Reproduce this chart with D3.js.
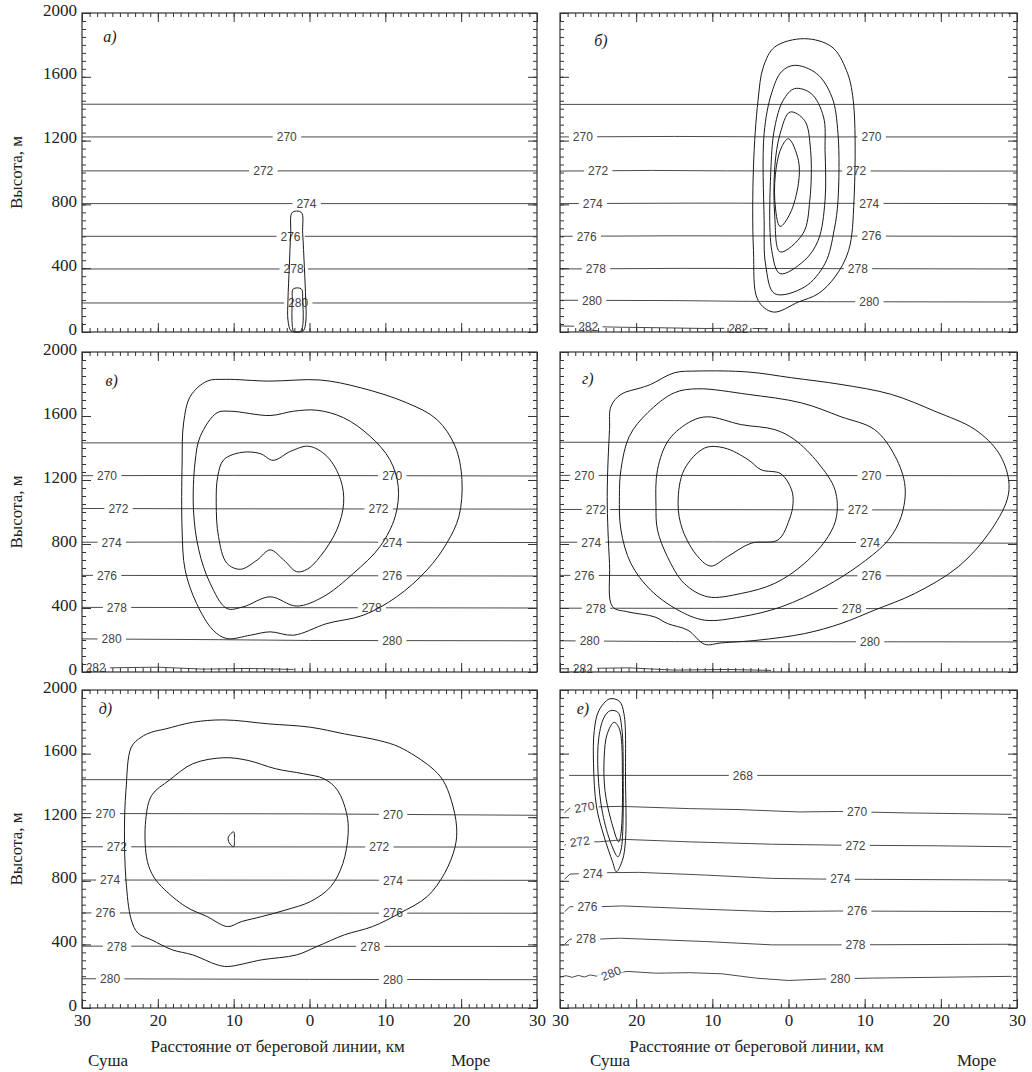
<!DOCTYPE html>
<html>
<head>
<meta charset="utf-8">
<script src="https://cdn.jsdelivr.net/npm/d3@7"></script>
<style>
body { margin: 0; background: #fff; }
</style>
</head>
<body>
<svg width="1032" height="1072"></svg>
<script>
var svg = d3.select("svg");

var panelNames = ["а)", "б)", "в)", "г)", "д)", "е)"];
var yTicks = [0, 400, 800, 1200, 1600, 2000];
var xTicks = [-30, -20, -10, 0, 10, 20, 30];
var yTitle = "Высота, м";
var xTitle = "Расстояние от береговой линии, км";
var landText = "Суша";
var seaText = "Море";

// isotherms: t = label, lab = label positions (km), pts = [km, m]
var isoA = [
    { t: null, lab: [], pts: [[-30, 1428], [30, 1428]] },
    { t: "270", lab: [-3.0], pts: [[-30, 1223], [30, 1223]] },
    { t: "272", lab: [-6.1], pts: [[-30, 1010], [30, 1010]] },
    { t: "274", lab: [-0.4], pts: [[-30, 805], [30, 805]] },
    { t: "276", lab: [-2.5], pts: [[-30, 600], [30, 600]] },
    { t: "278", lab: [-2.1], pts: [[-30, 395], [30, 395]] },
    { t: "280", lab: [-1.5], pts: [[-30, 182], [30, 182]] }
];
var isoB = [
    { t: null, lab: [], pts: [[-30, 1427], [30, 1427]] },
    { t: "270", lab: [-27.0, 10.9], pts: [[-30, 1223], [-15, 1226], [0, 1223], [30, 1223]] },
    { t: "272", lab: [-25.0, 8.9], pts: [[-30, 1009], [-18, 1013], [-8, 1010], [30, 1009]] },
    { t: "274", lab: [-25.7, 10.6], pts: [[-30, 805], [-12, 808], [30, 805]] },
    { t: "276", lab: [-26.5, 10.9], pts: [[-30, 600], [-15, 603], [30, 600]] },
    { t: "278", lab: [-25.3, 9.1], pts: [[-30, 395], [-14, 399], [30, 395]] },
    { t: "280", lab: [-25.8, 10.6], pts: [[-30, 199], [-15, 197], [-5, 192], [5, 190], [30, 188]] },
    { t: "282", lab: [-26.3, -6.6], pts: [[-30, 38], [-22, 30], [-16, 26], [-11, 22], [-6, 24], [-2.7, 20]] }
];
var isoC = [
    { t: null, lab: [], pts: [[-30, 1432], [30, 1432]] },
    { t: "270", lab: [-26.7, 10.9], pts: [[-30, 1227], [-10, 1229], [30, 1225]] },
    { t: "272", lab: [-25.2, 9.1], pts: [[-30, 1022], [-12, 1020], [30, 1018]] },
    { t: "274", lab: [-26.1, 10.9], pts: [[-30, 811], [-5, 813], [30, 809]] },
    { t: "276", lab: [-26.7, 10.9], pts: [[-30, 604], [30, 600]] },
    { t: "278", lab: [-25.4, 8.2], pts: [[-30, 404], [30, 400]] },
    { t: "280", lab: [-26.1, 10.9], pts: [[-30, 207], [-12, 202], [0, 197], [30, 195]] },
    { t: "282", lab: [-28.2], pts: [[-30, 24], [-20, 30], [-14, 18], [-8, 22], [-2.1, 16]] }
];
var isoD = [
    { t: null, lab: [], pts: [[-30, 1436], [30, 1436]] },
    { t: "270", lab: [-26.8, 10.9], pts: [[-30, 1229], [30, 1227]] },
    { t: "272", lab: [-25.3, 9.1], pts: [[-30, 1016], [30, 1012]] },
    { t: "274", lab: [-25.9, 10.7], pts: [[-30, 811], [-10, 813], [30, 805]] },
    { t: "276", lab: [-26.8, 10.9], pts: [[-30, 604], [30, 600]] },
    { t: "278", lab: [-25.3, 8.3], pts: [[-30, 399], [0, 397], [30, 395]] },
    { t: "280", lab: [-26.1, 10.7], pts: [[-30, 195], [-15, 190], [30, 188]] },
    { t: "282", lab: [-27.0], pts: [[-30, 20], [-21, 26], [-15, 12], [-8, 16], [-2.3, 10]] }
];
var isoE = [
    { t: null, lab: [], pts: [[-30, 1436], [30, 1436]] },
    { t: "270", lab: [-26.9, 11.0], pts: [[-30, 1223], [0, 1221], [30, 1212]] },
    { t: "272", lab: [-25.4, 9.2], pts: [[-30, 1014], [30, 1012]] },
    { t: "274", lab: [-26.3, 11.0], pts: [[-30, 805], [30, 803]] },
    { t: "276", lab: [-26.9, 11.0], pts: [[-30, 598], [30, 596]] },
    { t: "278", lab: [-25.4, 8.0], pts: [[-30, 389], [30, 387]] },
    { t: "280", lab: [-26.3, 11.0], pts: [[-30, 184], [0, 180], [30, 178]] }
];
var isoF = [
    { t: "268", lab: [-6.0], pts: [[-28.8, 1463], [29.3, 1463]] },
    { t: "270", lab: [-26.8, 9.0], rot: [-10, 0],
      pts: [[-29.4, 1228], [-28.6, 1262], [-22, 1268], [-13, 1254], [-6.5, 1248], [1.4, 1233], [6.6, 1236], [15.4, 1227], [29.3, 1218]] },
    { t: "272", lab: [-27.4, 8.8], rot: [-8, 0],
      pts: [[-29.4, 1020], [-28.8, 1050], [-25, 1045], [-21.3, 1060], [-13, 1045], [-2.1, 1030], [6.6, 1024], [19.7, 1020], [29.3, 1014]] },
    { t: "274", lab: [-25.7, 6.8],
      pts: [[-29.4, 810], [-28.7, 842], [-24, 851], [-19.6, 853], [-10.9, 836], [-2.1, 815], [4.4, 811], [11, 809], [29.3, 805]] },
    { t: "276", lab: [-26.4, 9.0],
      pts: [[-29.4, 606], [-28.7, 637], [-24.8, 637], [-21.8, 642], [-10.9, 621], [-2.1, 606], [6.6, 610], [29.3, 606]] },
    { t: "278", lab: [-26.6, 8.8],
      pts: [[-29.4, 400], [-28.7, 433], [-25, 433], [-22.2, 439], [-10.9, 418], [-2.1, 397], [6.6, 397], [29.3, 401]] },
    { t: "280", lab: [-23.3, 6.8], rot: [-22, 0],
      pts: [[-30, 195], [-29.2, 203], [-28.4, 193], [-27.6, 205], [-26.8, 195], [-26, 208], [-25.2, 200], [-24.4, 212],
            [-21.1, 230], [-17.4, 219], [-13, 222], [-8.7, 215], [-4.3, 188], [0, 173], [4.4, 182], [11, 188], [29.3, 199]] }
];

// cloud contours, [km, m]
var cloudA = [
    [[-2.27, 750], [-1.08, 750], [-0.9, 619], [-0.68, 410], [-0.5, 200], [-0.47, 75], [-0.8, 8], [-1.6, 0],
     [-2.45, 8], [-2.84, 75], [-2.84, 200], [-2.66, 410], [-2.48, 619]],
    [[-2.14, 270], [-1.08, 270], [-0.9, 200], [-0.9, 40], [-1.2, 4], [-1.7, 0], [-2.1, 4], [-2.27, 40], [-2.27, 200]]
];
var cloudB = [
    [[2.1, 1839], [5.7, 1787], [7.6, 1641], [8.5, 1452], [8.6, 826], [7.9, 512], [6.1, 345], [3.9, 240], [1.3, 188],
     [-2.0, 125], [-4.0, 199], [-4.6, 512], [-4.6, 1035], [-4.0, 1452], [-3.3, 1662], [-1.8, 1787]],
    [[0.8, 1672], [3.7, 1620], [5.7, 1473], [6.5, 1243], [6.5, 826], [6.0, 640], [4.8, 430], [2.1, 282], [-1.8, 240],
     [-3.0, 420], [-3.2, 700], [-3.2, 1245], [-2.2, 1500], [-0.9, 1633]],
    [[0.8, 1526], [3.0, 1494], [4.6, 1348], [4.8, 1139], [4.8, 826], [3.9, 575], [2.1, 449], [-1.1, 366], [-2.2, 512],
     [-2.3, 1035], [-1.8, 1285], [-0.7, 1452]],
    [[0.2, 1379], [2.1, 1327], [2.9, 1139], [2.8, 826], [1.9, 617], [-1.1, 502], [-1.8, 721], [-1.8, 1035], [-1.1, 1243]],
    [[0.0, 1212], [1.3, 1076], [1.3, 930], [0.2, 742], [-1.1, 662], [-1.8, 826], [-1.6, 1034], [-0.9, 1160]]
];
var cloudC = [
    [[-13.5, 1818], [-11.1, 1829], [-5.4, 1818], [1.4, 1825], [6.7, 1777], [12.8, 1683], [16.8, 1578], [19.2, 1411],
     [20.1, 1202], [19.7, 972], [18.1, 805], [15.5, 638], [11.5, 470], [7.1, 355], [2.3, 303], [-2.1, 230], [-5.2, 251],
     [-7.8, 230], [-10.9, 209], [-12.7, 261], [-14.9, 429], [-16.4, 638], [-16.8, 888], [-16.8, 1306], [-16.6, 1557], [-15.7, 1724]],
    [[-12.2, 1620], [-10.5, 1630], [-5.2, 1603], [-2.1, 1630], [1.0, 1636], [4.5, 1589], [8.0, 1473], [10.6, 1327],
     [11.7, 1160], [11.3, 972], [9.3, 784], [5.8, 617], [1.8, 470], [-1.7, 412], [-5.2, 470], [-8.7, 408], [-10.9, 397],
     [-13.1, 554], [-14.6, 763], [-15.3, 1014], [-15.1, 1306], [-14.4, 1473]],
    [[-11.3, 1327], [-8.9, 1373], [-6.5, 1365], [-4.8, 1323], [-2.5, 1379], [-0.1, 1411], [2.3, 1348], [4.1, 1202],
     [4.5, 1055], [3.6, 888], [1.4, 721], [-0.3, 642], [-1.7, 627], [-3.4, 700], [-5.2, 763], [-6.9, 700], [-9.1, 642],
     [-10.9, 680], [-12.0, 846], [-12.3, 1055], [-12.1, 1223]]
];
var cloudD = [
    [[-23.5, 1515], [-23.3, 1661], [-22.0, 1735], [-19.4, 1776], [-18.1, 1797], [-15.0, 1870], [-11.9, 1881], [-5.3, 1875],
     [0.4, 1839], [6.9, 1797], [13.5, 1735], [19.2, 1630], [24.5, 1515], [27.6, 1369], [28.9, 1202], [28.7, 1076],
     [26.3, 867], [22.3, 658], [16.6, 491], [11.3, 387], [6.9, 303], [2.1, 240], [-4.0, 199], [-8.8, 182], [-11.0, 173],
     [-13.2, 261], [-15.9, 303], [-17.6, 345], [-21.1, 376], [-23.1, 408], [-23.5, 679], [-23.8, 1097]],
    [[-22.0, 1264], [-20.9, 1473], [-18.5, 1620], [-15.0, 1745], [-11.9, 1770], [-5.3, 1735], [1.7, 1682], [6.9, 1595],
     [11.3, 1515], [14.0, 1348], [15.3, 1160], [14.8, 972], [13.1, 825], [9.6, 679], [4.8, 533], [-0.9, 408], [-6.2, 345],
     [-11.0, 324], [-14.5, 387], [-18.1, 512], [-20.7, 679], [-22.0, 888], [-22.2, 1097]],
    [[-17.4, 1034], [-17.2, 1264], [-15.7, 1452], [-12.8, 1567], [-10.6, 1595], [-6.2, 1546], [-1.8, 1515], [0.8, 1452],
     [3.9, 1306], [6.1, 1139], [6.3, 972], [5.2, 846], [2.1, 679], [-1.8, 554], [-6.2, 491], [-10.6, 470], [-13.7, 554],
     [-15.9, 721], [-17.2, 888]],
    [[-14.5, 1055], [-13.7, 1264], [-11.0, 1400], [-8.4, 1400], [-5.3, 1327], [-3.6, 1264], [-1.0, 1239], [0.4, 1139],
     [0.6, 1055], [0.1, 951], [-1.4, 825], [-4.9, 805], [-8.0, 721], [-10.2, 662], [-11.9, 721], [-13.9, 888]]
];
var cloudE = [
    [[-23.5, 1640], [-22.2, 1703], [-20.8, 1735], [-19.0, 1755], [-15.4, 1797], [-11.3, 1812], [-5.4, 1787], [0.1, 1766],
     [4.6, 1724], [9.2, 1682], [11.9, 1640], [16.0, 1515], [17.6, 1432], [18.7, 1306], [19.4, 1139], [19.2, 1014],
     [17.8, 846], [15.5, 700], [11.9, 596], [8.3, 512], [4.6, 460], [1.0, 387], [-1.7, 334], [-6.3, 303], [-10.8, 261],
     [-12.2, 272], [-15.4, 334], [-18.1, 366], [-20.8, 428], [-22.6, 470], [-23.5, 554], [-24.2, 805], [-24.4, 1118], [-24.2, 1369]],
    [[-21.5, 951], [-21.6, 1181], [-20.8, 1338], [-18.5, 1432], [-15.4, 1536], [-11.3, 1574], [-8.1, 1557], [-4.5, 1505],
     [-0.8, 1473], [1.9, 1442], [3.7, 1369], [4.9, 1223], [5.1, 1097], [4.4, 909], [2.8, 763], [0.1, 669], [-3.1, 617],
     [-6.3, 575], [-9.0, 543], [-10.8, 512], [-13.5, 575], [-16.3, 637], [-19.5, 763], [-20.8, 846]],
    [[-10.0, 1108], [-9.9, 1060], [-10.0, 1014], [-10.6, 1040], [-10.7, 1075]]
];
var cloudF = [
    [[-23.5, 1944], [-22.2, 1929], [-21.6, 1850], [-21.4, 1432], [-21.4, 1055], [-21.8, 930], [-22.6, 857], [-23.1, 920],
     [-24.2, 1076], [-25.2, 1264], [-25.6, 1536], [-25.5, 1745], [-24.9, 1870]],
    [[-23.4, 1870], [-22.4, 1860], [-21.9, 1766], [-21.7, 1432], [-21.8, 1076], [-22.0, 993], [-22.4, 951], [-23.3, 1034],
     [-24.4, 1223], [-25.0, 1473], [-24.9, 1703], [-24.2, 1829]],
    [[-22.9, 1797], [-22.2, 1755], [-21.8, 1432], [-22.0, 1097], [-22.3, 1045], [-23.3, 1181], [-24.1, 1369], [-24.2, 1578], [-23.8, 1724]]
];

var panels = [
    { name: panelNames[0], iso: isoA, cloud: cloudA },
    { name: panelNames[1], iso: isoB, cloud: cloudB },
    { name: panelNames[2], iso: isoC, cloud: cloudC },
    { name: panelNames[3], iso: isoD, cloud: cloudD },
    { name: panelNames[4], iso: isoE, cloud: cloudE },
    { name: panelNames[5], iso: isoF, cloud: cloudF }
];

// layout
var colX = [[82, 537], [560, 1017]];
var rowY = [[13, 332], [352, 672], [690, 1008]];
var letterPos = [[-27.2, 1820], [-25.5, 1790], [-26.9, 1790], [-27.1, 1800], [-27.8, 1850], [-27.8, 1850]];
var serif = "'Liberation Serif', 'Times New Roman', serif";
var sans = "'Liberation Sans', Arial, sans-serif";

function hAt(pts, k) {
    if (k <= pts[0][0]) return pts[0][1];
    for (var i = 1; i < pts.length; i++) {
        if (k <= pts[i][0]) {
            var a = pts[i - 1], b = pts[i];
            return a[1] + (b[1] - a[1]) * (k - a[0]) / (b[0] - a[0]);
        }
    }
    return pts[pts.length - 1][1];
}

function styleAxis(g, showText) {
    g.select(".domain").remove();
    g.selectAll(".tick line").attr("stroke", "#333").attr("stroke-width", 1);
    g.selectAll(".tick text")
        .attr("font-family", serif)
        .attr("font-size", 17)
        .attr("fill", "#222")
        .style("display", showText ? null : "none");
}

panels.forEach(function(p, i) {
    var col = i % 2, row = Math.floor(i / 2);
    var x = d3.scaleLinear().domain([-30, 30]).range(colX[col]);
    var y = d3.scaleLinear().domain([0, 2000]).range([rowY[row][1], rowY[row][0]]);
    var x0 = colX[col][0], x1 = colX[col][1], y0 = rowY[row][0], y1 = rowY[row][1];

    var g = svg.append("g");

    var line = d3.line()
        .x(function(d) { return x(d[0]); })
        .y(function(d) { return y(d[1]); });

    // isotherms
    g.append("g").selectAll("path").data(p.iso).enter().append("path")
        .attr("d", function(d) { return line(d.pts); })
        .attr("fill", "none")
        .attr("stroke", "#4a4a4a")
        .attr("stroke-width", 1);

    // isotherm labels with gaps
    var labG = g.append("g");
    p.iso.forEach(function(iso) {
        iso.lab.forEach(function(k, j) {
            var px = x(k), py = y(hAt(iso.pts, k));
            var ang = iso.rot ? iso.rot[j] : 0;
            var lg = labG.append("g").attr("transform", "translate(" + px + "," + py + ") rotate(" + ang + ")");
            var rect = lg.append("rect").attr("fill", "#fff");
            var txt = lg.append("text")
                .attr("text-anchor", "middle")
                .attr("dy", "0.36em")
                .attr("font-family", sans)
                .attr("font-size", 12)
                .attr("fill", "#444")
                .text(iso.t);
            var bb = txt.node().getBBox();
            rect.attr("x", bb.x - 4).attr("y", -3).attr("width", bb.width + 8).attr("height", 6);
        });
    });

    // cloud contours
    var cline = d3.line()
        .x(function(d) { return x(d[0]); })
        .y(function(d) { return y(d[1]); })
        .curve(d3.curveCatmullRomClosed.alpha(0.5));

    g.append("g").selectAll("path").data(p.cloud).enter().append("path")
        .attr("d", cline)
        .attr("fill", "none")
        .attr("stroke", "#1a1a1a")
        .attr("stroke-width", 1);

    // frame
    g.append("rect")
        .attr("x", x0).attr("y", y0)
        .attr("width", x1 - x0).attr("height", y1 - y0)
        .attr("fill", "none")
        .attr("stroke", "#333")
        .attr("stroke-width", 1.2);

    var xMinor = d3.range(-30, 31, 1);
    var yMinor = d3.range(0, 2001, 50);

    // bottom
    g.append("g").attr("transform", "translate(0," + y1 + ")")
        .call(d3.axisBottom(x).tickValues(xMinor).tickSize(-4).tickFormat(""))
        .call(styleAxis, false);
    g.append("g").attr("transform", "translate(0," + y1 + ")")
        .call(d3.axisBottom(x).tickValues(xTicks).tickSize(-9).tickPadding(6)
            .tickFormat(function(d) { return Math.abs(d); }))
        .call(styleAxis, row === 2);
    // top
    g.append("g").attr("transform", "translate(0," + y0 + ")")
        .call(d3.axisTop(x).tickValues(xMinor).tickSize(-4).tickFormat(""))
        .call(styleAxis, false);
    g.append("g").attr("transform", "translate(0," + y0 + ")")
        .call(d3.axisTop(x).tickValues(xTicks).tickSize(-9).tickFormat(""))
        .call(styleAxis, false);
    // left
    g.append("g").attr("transform", "translate(" + x0 + ",0)")
        .call(d3.axisLeft(y).tickValues(yMinor).tickSize(-4).tickFormat(""))
        .call(styleAxis, false);
    g.append("g").attr("transform", "translate(" + x0 + ",0)")
        .call(d3.axisLeft(y).tickValues(yTicks).tickSize(-9).tickPadding(5).tickFormat(d3.format("d")))
        .call(styleAxis, col === 0)
        .call(function(a) { a.selectAll(".tick text").attr("dy", "0.12em"); });
    // right
    g.append("g").attr("transform", "translate(" + x1 + ",0)")
        .call(d3.axisRight(y).tickValues(yMinor).tickSize(-4).tickFormat(""))
        .call(styleAxis, false);
    g.append("g").attr("transform", "translate(" + x1 + ",0)")
        .call(d3.axisRight(y).tickValues(yTicks).tickSize(-9).tickFormat(""))
        .call(styleAxis, false);

    // panel letter
    g.append("text")
        .attr("x", x(letterPos[i][0]))
        .attr("y", y(letterPos[i][1]))
        .attr("font-family", serif)
        .attr("font-style", "italic")
        .attr("font-size", 16)
        .attr("fill", "#222")
        .text(p.name);

    // y title on left column
    if (col === 0) {
        svg.append("text")
            .attr("transform", "translate(22," + ((y0 + y1) / 2) + ") rotate(-90)")
            .attr("text-anchor", "middle")
            .attr("font-family", serif)
            .attr("font-size", 17)
            .attr("fill", "#222")
            .text(yTitle);
    }

    // x titles on bottom row
    if (row === 2) {
        svg.append("text")
            .attr("x", x(-4.2)).attr("y", 1052)
            .attr("text-anchor", "middle")
            .attr("font-family", serif)
            .attr("font-size", 17)
            .attr("fill", "#222")
            .text(xTitle);
        svg.append("text")
            .attr("x", x0 + 6 + col * 24).attr("y", 1066)
            .attr("font-family", serif)
            .attr("font-size", 17)
            .attr("fill", "#222")
            .text(landText);
        svg.append("text")
            .attr("x", x1 - 86 + col * 26).attr("y", 1066)
            .attr("font-family", serif)
            .attr("font-size", 17)
            .attr("fill", "#222")
            .text(seaText);
    }
});
</script>
</body>
</html>
